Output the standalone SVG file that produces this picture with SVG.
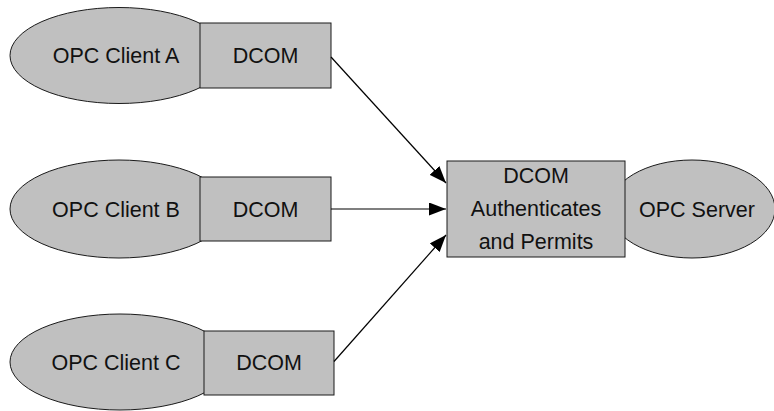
<svg xmlns="http://www.w3.org/2000/svg" width="774" height="411" viewBox="0 0 774 411">
<style>
.n{fill:#c0c0c0;stroke:#1a1a1a;stroke-width:1}
.t{font-family:"Liberation Sans",Arial,sans-serif;font-size:21.5px;fill:#111;text-anchor:middle}
.c{stroke:#000;stroke-width:1.2;fill:none;marker-end:url(#ah)}
</style>
<defs>
<marker id="ah" markerWidth="17" markerHeight="13" refX="17" refY="6.5" orient="auto" markerUnits="userSpaceOnUse">
<path d="M0,0 L17,6.5 L0,13 Z" fill="#000"/>
</marker>
</defs>
<rect width="774" height="411" fill="#fff"/>
<g id="clientA">
<ellipse class="n" cx="119" cy="55.5" rx="109" ry="48"/>
<text class="t" x="116" y="63">OPC Client A</text>
</g>
<g id="dcomA">
<rect class="n" x="200" y="23" width="131" height="65"/>
<text class="t" x="265.5" y="63">DCOM</text>
</g>
<g id="clientB">
<ellipse class="n" cx="119" cy="209" rx="109" ry="49"/>
<text class="t" x="116" y="217">OPC Client B</text>
</g>
<g id="dcomB">
<rect class="n" x="200" y="177" width="131" height="64"/>
<text class="t" x="265.5" y="217">DCOM</text>
</g>
<g id="clientC">
<ellipse class="n" cx="120" cy="362" rx="110" ry="48"/>
<text class="t" x="116" y="370">OPC Client C</text>
</g>
<g id="dcomC">
<rect class="n" x="204" y="331" width="130" height="64"/>
<text class="t" x="269" y="370">DCOM</text>
</g>
<g id="server">
<ellipse class="n" cx="692" cy="209" rx="83" ry="49"/>
<text class="t" x="697" y="217">OPC Server</text>
</g>
<g id="dcomServer">
<rect class="n" x="447" y="161" width="178" height="96"/>
<text class="t" x="536" y="183">DCOM</text>
<text class="t" x="536" y="216">Authenticates</text>
<text class="t" x="536" y="249">and Permits</text>
</g>
<g id="connectors">
<line class="c" x1="331" y1="57" x2="446" y2="183"/>
<line class="c" x1="331" y1="209" x2="446" y2="209"/>
<line class="c" x1="334" y1="361.5" x2="446" y2="235"/>
</g>
</svg>
